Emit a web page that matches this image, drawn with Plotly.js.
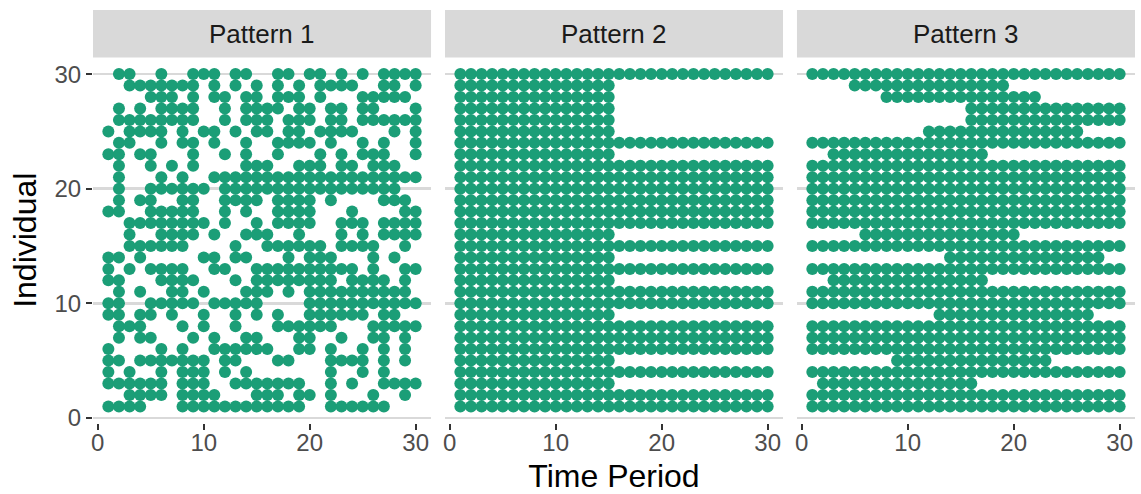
<!DOCTYPE html>
<html>
<head>
<meta charset="utf-8">
<script src="https://cdn.plot.ly/plotly-3.0.1.min.js"></script>
<style>
  html, body { margin: 0; padding: 0; background: #ffffff; }
  #chart { width: 1141px; height: 494px; }
</style>
</head>
<body>
<div id="chart"></div>
<script>
// Individuals observed over 30 time periods, three attendance patterns.
const individuals = [1,2,3,4,5,6,7,8,9,10,11,12,13,14,15,16,17,18,19,20,21,22,23,24,25,26,27,28,29,30];

// Pattern 1: periods in which each individual (1..30) was observed.
const pattern1Periods = [
  [1,2,3,4,8,9,10,11,12,13,14,15,16,17,18,19,22,23,24,25,26,27],
  [3,4,5,6,8,9,10,11,15,16,17,19,20,22,26,29],
  [1,2,3,4,5,6,8,9,10,13,14,15,16,17,18,19,22,24,27,28,29,30],
  [1,3,6,8,9,10,12,14,22,25,27],
  [1,2,4,5,6,7,8,9,10,12,13,17,18,22,23,24,25,27,29],
  [1,6,8,11,12,13,14,15,16,19,20,22,25,27,29],
  [2,4,5,9,11,14,15,19,20,23,26,27,29],
  [2,3,4,8,10,13,17,18,19,20,21,22,26,27,28,29,30],
  [1,2,4,5,7,10,13,15,17,20,21,22,23,24,25,27,28],
  [1,2,5,6,7,8,9,11,12,13,14,15,20,21,22,23,24,25,26,27,28,29,30],
  [2,4,7,8,10,14,15,16,18,20,21,22,23,24,25,26,27,28,29],
  [1,2,6,7,8,9,13,15,16,17,18,19,20,21,22,24,25,26,27,29],
  [1,3,5,6,7,8,11,12,15,16,17,18,19,20,21,22,23,24,26,29,30],
  [1,2,4,10,11,13,14,18,20,21,22,26,28],
  [3,4,5,6,7,8,13,16,17,18,19,20,21,23,24,25,26,29],
  [3,6,7,8,9,11,14,15,16,19,23,25,27,28,29,30],
  [3,4,5,6,7,8,9,10,12,15,17,18,19,20,23,24,25,27,28,29,30],
  [1,2,5,6,7,8,9,12,14,17,18,19,20,24,29,30],
  [2,4,5,8,9,12,13,14,15,17,18,19,20,22,27,28,29],
  [2,5,6,7,8,9,10,12,13,14,15,16,17,18,19,20,21,22,23,24,25,26,27,28],
  [2,6,8,11,12,13,14,15,16,17,18,19,20,21,22,23,24,25,26,27,28,29,30],
  [2,5,7,9,14,15,16,19,20,21,23,24,26,27,28],
  [1,2,4,5,9,12,14,17,21,23,25,26,27,30],
  [2,3,6,8,9,11,14,17,18,19,20,22,25,27,30],
  [1,3,4,5,6,8,10,11,13,15,16,18,19,21,22,23,24,28,30],
  [2,3,4,5,6,7,8,9,12,14,15,16,18,19,20,22,23,25,26,27,28,29,30],
  [2,4,6,7,8,9,12,14,15,16,17,19,20,22,23,25,26,30],
  [5,6,7,9,11,12,14,15,17,18,19,21,25,26,27,28,29],
  [3,4,5,6,7,8,9,11,13,15,17,19,21,22,23,24,27,28,30],
  [2,3,6,9,10,11,13,14,17,18,20,21,23,25,27,28,29,30]
];

// Pattern 2: every individual starts in period 1; last period observed.
const pattern2FirstPeriod = [1,1,1,1,1,1,1,1,1,1,1,1,1,1,1,1,1,1,1,1,1,1,1,1,1,1,1,1,1,1];
const pattern2LastPeriod  = [30,30,15,30,15,30,30,30,15,30,30,15,30,15,30,15,30,30,30,30,30,30,15,30,15,15,15,15,15,30];

// Pattern 3: one continuous spell per individual.
const pattern3FirstPeriod = [1,1,2,1,9,1,1,1,13,1,1,3,1,14,1,6,1,1,1,1,1,1,3,1,12,16,16,8,5,1];
const pattern3LastPeriod  = [30,30,16,30,23,30,30,30,27,30,30,17,30,28,30,20,30,30,30,30,30,30,17,30,26,30,30,22,19,30];

const panelTitles = ['Pattern 1', 'Pattern 2', 'Pattern 3'];
const xTicks = [0, 10, 20, 30];
const yTicks = [0, 10, 20, 30];

// Expand each individual's observed periods into (period, individual) points.
function fromLists(lists) {
  const x = [], y = [];
  lists.forEach((periods, i) => periods.forEach(p => { x.push(p); y.push(individuals[i]); }));
  return { x, y };
}
function fromSpells(first, last) {
  const x = [], y = [];
  individuals.forEach((ind, i) => {
    for (let p = first[i]; p <= last[i]; p++) { x.push(p); y.push(ind); }
  });
  return { x, y };
}

const panels = [
  fromLists(pattern1Periods),
  fromSpells(pattern2FirstPeriod, pattern2LastPeriod),
  fromSpells(pattern3FirstPeriod, pattern3LastPeriod)
];

const GREEN = '#1B9E77';
const axisKeys = ['x', 'x2', 'x3'];
const traces = panels.map((pts, k) => ({
  type: 'scatter',
  mode: 'markers',
  x: pts.x,
  y: pts.y,
  xaxis: axisKeys[k],
  yaxis: 'y',
  marker: { size: 12, color: GREEN, line: { width: 0 } },
  hoverinfo: 'x+y',
  showlegend: false
}));

const domains = [[0, 0.3244], [0.3378, 0.6622], [0.6756, 1]];
const yTop = 0.885;
const RANGE = [-0.45, 31.45];

function xAxis(k) {
  return {
    domain: domains[k],
    anchor: 'y',
    range: RANGE,
    tickvals: xTicks,
    ticktext: xTicks.map(String),
    ticks: 'outside',
    ticklen: 6,
    tickwidth: 2,
    tickcolor: '#333333',
    tickfont: { size: 24, color: '#4D4D4D' },
    ticklabelstandoff: -8,
    showgrid: false,
    zeroline: false,
    showline: false,
    fixedrange: true
  };
}

const layout = {
  width: 1141,
  height: 494,
  margin: { l: 93, r: 6, t: 10, b: 71 },
  paper_bgcolor: '#ffffff',
  plot_bgcolor: '#ffffff',
  font: { family: 'Liberation Sans, Arial, sans-serif' },
  showlegend: false,
  xaxis: xAxis(0),
  xaxis2: Object.assign(xAxis(1), {
    title: { text: 'Time Period', font: { size: 32, color: '#000000' }, standoff: 21 }
  }),
  xaxis3: xAxis(2),
  yaxis: {
    domain: [0, yTop],
    range: RANGE,
    tickvals: yTicks,
    ticktext: yTicks.map(String),
    ticks: 'outside',
    ticklen: 6,
    tickwidth: 2,
    tickcolor: '#333333',
    tickfont: { size: 24, color: '#4D4D4D' },
    showgrid: true,
    gridcolor: '#D9D9D9',
    gridwidth: 2.5,
    zeroline: false,
    showline: false,
    fixedrange: true,
    title: { text: 'Individual', font: { size: 32, color: '#000000' }, standoff: 8 }
  },
  shapes: domains.map(d => ({
    type: 'rect', xref: 'paper', yref: 'paper',
    x0: d[0], x1: d[1], y0: yTop, y1: 1,
    fillcolor: '#D9D9D9', line: { width: 0 }, layer: 'below'
  })),
  annotations: domains.map((d, k) => ({
    xref: 'paper', yref: 'paper',
    x: (d[0] + d[1]) / 2, y: (yTop + 1) / 2,
    xanchor: 'center', yanchor: 'middle',
    text: panelTitles[k], showarrow: false,
    font: { size: 26, color: '#1A1A1A' }
  }))
};

Plotly.newPlot('chart', traces, layout, { displayModeBar: false, staticPlot: true });
</script>
</body>
</html>
